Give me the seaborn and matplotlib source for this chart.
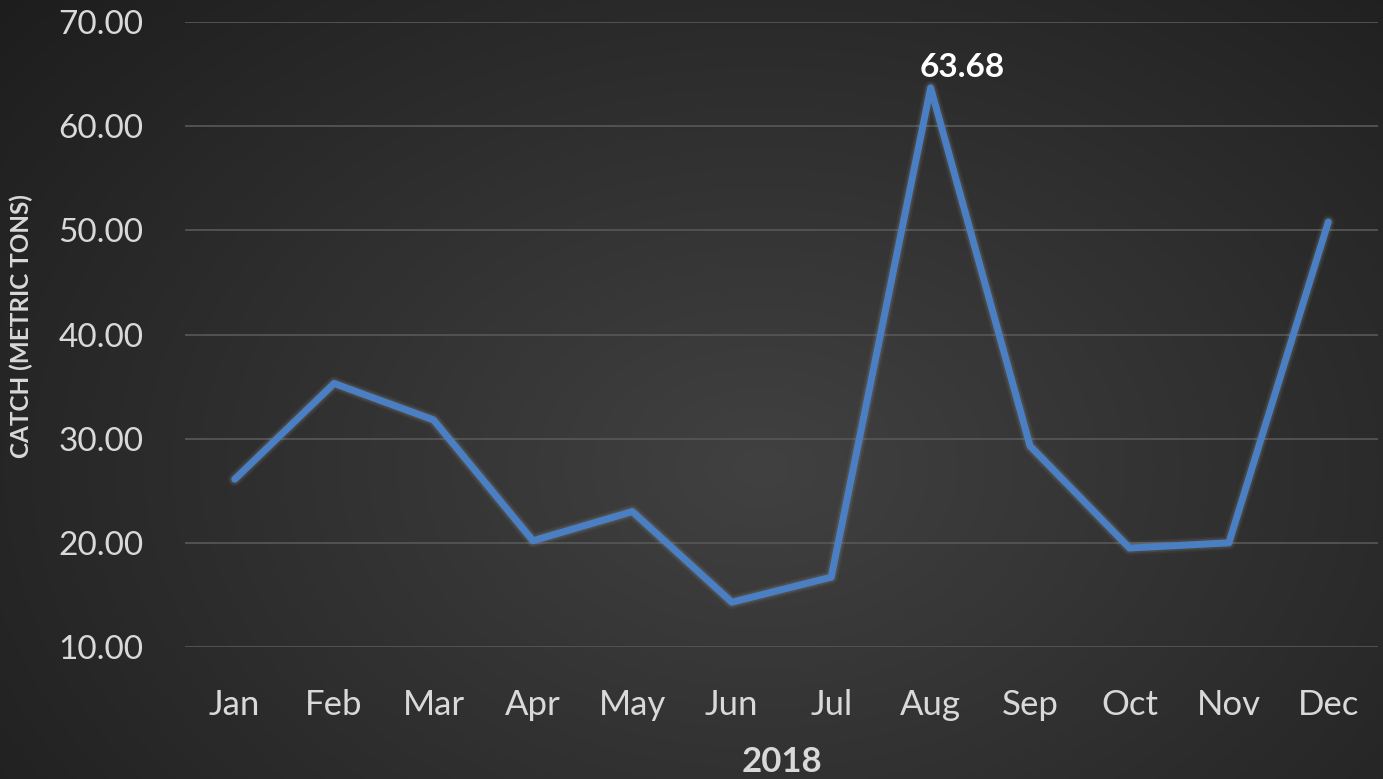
import numpy as np
import pandas as pd
import matplotlib
matplotlib.use("Agg")
import matplotlib.pyplot as plt
import matplotlib.patheffects as pe
import seaborn as sns

months = ["Jan", "Feb", "Mar", "Apr", "May", "Jun", "Jul", "Aug", "Sep", "Oct", "Nov", "Dec"]
catch = [26.1, 35.3, 31.8, 20.2, 23.0, 14.3, 16.7, 63.68, 29.3, 19.5, 20.0, 50.8]
y_ticks = [10, 20, 30, 40, 50, 60, 70]

df = pd.DataFrame({"month": months, "catch": catch, "idx": range(len(months))})

sns.set_theme(style="white")
plt.rcParams["font.family"] = ["Lato", "DejaVu Sans"]

W, H = 1383, 779
fig = plt.figure(figsize=(W / 100, H / 100), dpi=100)

# radial gradient background
bg = fig.add_axes([0, 0, 1, 1], zorder=-10)
yy, xx = np.mgrid[0:H, 0:W]
cx, cy = W * 0.55, H * 0.6
r = np.sqrt(((xx - cx) / (W * 0.75)) ** 2 + ((yy - cy) / (H * 0.95)) ** 2)
r = np.clip(r, 0, 1)
inner = np.array([0x41, 0x41, 0x41]) / 255
outer = np.array([0x1c, 0x1c, 0x1c]) / 255
img = inner[None, None, :] * (1 - r[..., None]) + outer[None, None, :] * r[..., None]
bg.imshow(img, aspect="auto", extent=[0, 1, 0, 1])
bg.axis("off")

ax = fig.add_axes([185 / W, 1 - 647 / H, (1378 - 185) / W, (647 - 22) / H])
ax.set_facecolor("none")

sns.lineplot(data=df, x="idx", y="catch", ax=ax, color="#4a7fc4", linewidth=5,
             solid_capstyle="round", solid_joinstyle="round", zorder=5,
             path_effects=[pe.Stroke(linewidth=10, foreground="#a0a0a0", alpha=0.08),
                           pe.Stroke(linewidth=7.5, foreground="#b0b0b0", alpha=0.12),
                           pe.Normal()])

ax.set_xlim(-0.5, len(months) - 0.5)
ax.set_ylim(10, 70)
ax.set_yticks(y_ticks)
ax.set_yticklabels([f"{v:.2f}" for v in y_ticks])
ax.set_xticks(range(len(months)))
ax.set_xticklabels(months)
ax.yaxis.grid(True, color="#555555", linewidth=1.3)
ax.xaxis.grid(False)
for s in ax.spines.values():
    s.set_visible(False)
ax.tick_params(axis="y", length=0, pad=30, labelsize=24, labelcolor="#d9d9d9")
ax.tick_params(axis="x", length=0, pad=30, labelsize=25, labelcolor="#d9d9d9")

ax.set_xlabel("2018", fontsize=25, fontweight="bold", color="#d9d9d9", labelpad=18)
ax.set_ylabel("CATCH (METRIC TONS)", fontsize=17.5, fontweight="bold", color="#d9d9d9")
ax.yaxis.set_label_coords(-(185 - 33) / (1378 - 185), (647 - 326) / (647 - 22))

i = int(np.argmax(catch))
ax.annotate(f"{catch[i]:.2f}", xy=(i, catch[i]), xytext=(23, 15), textcoords="offset points",
            ha="center", va="center", fontsize=24, fontweight="bold", color="white")

fig.savefig("out.png", dpi=100)
